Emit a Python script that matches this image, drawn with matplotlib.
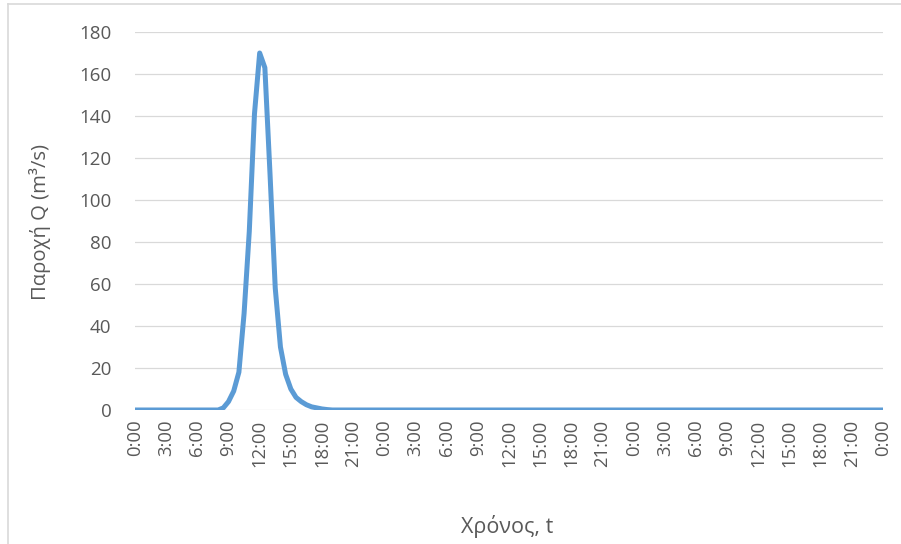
import numpy as np
import matplotlib
matplotlib.use("Agg")
import matplotlib.pyplot as plt
from matplotlib.lines import Line2D

plt.rcParams['font.family'] = ['Open Sans', 'DejaVu Sans']

# half-hourly discharge readings, 3 days (0:00 day 1 -> 0:00 day 4)
step_h = 0.5
q_before = [0.0] * 16                       # 0:00 - 7:30
q_event = [0.0, 1.0, 4.0, 9.0, 18.0, 46.0, 85.0, 141.0, 170.0, 163.0,
           112.0, 58.0, 30.0, 17.0, 10.0, 6.0, 4.0, 2.5, 1.5, 1.0, 0.5, 0.2]
q_after = [0.0] * 107                       # 19:00 day 1 - 0:00 day 4
discharge = q_before + q_event + q_after

tick_hours = list(range(0, 73, 3))
tick_labels = [f"{h % 24}:00" for h in tick_hours]

y_ticks = [0, 20, 40, 60, 80, 100, 120, 140, 160, 180]

hours = np.arange(len(discharge)) * step_h

fig = plt.figure(figsize=(9.01, 5.44), dpi=100)
ax = fig.add_axes([135 / 901, 134 / 544, 748 / 901, 378 / 544])

for y in y_ticks:
    ax.axhline(y, color='#D9D9D9', lw=0.9, zorder=0)
ax.plot(hours, discharge, color='#5B9BD5', lw=3.6, solid_capstyle='round',
        solid_joinstyle='round', zorder=3)

ax.set_xlim(0, 72)
ax.set_ylim(0, 180)
ax.set_xticks(tick_hours)
ax.set_xticklabels(tick_labels, rotation=90, fontsize=13.3, color='#595959')
ax.set_yticks(y_ticks)
ax.set_yticklabels([str(v) for v in y_ticks], fontsize=13.5, color='#595959')
ax.tick_params(axis='both', length=0)
ax.tick_params(axis='x', pad=7)
ax.tick_params(axis='y', pad=17)
for s in ax.spines.values():
    s.set_visible(False)

fig.text(40 / 901, 1 - 222 / 544, 'Παροχή Q (m³/s)', rotation=90,
         ha='center', va='center', fontsize=14.6, color='#595959')
fig.text(507 / 901, 1 - 527 / 544, 'Χρόνος, t', ha='center', va='center',
         fontsize=15.5, color='#595959')

# chart border fragments
fig.add_artist(Line2D([8 / 901, 8 / 901], [0, 1 - 4 / 544],
                      transform=fig.transFigure, color='#D9D9D9', lw=1.2))
fig.add_artist(Line2D([8 / 901, 1], [1 - 4 / 544, 1 - 4 / 544],
                      transform=fig.transFigure, color='#D9D9D9', lw=1.2))

fig.savefig('out.png', dpi=100)
